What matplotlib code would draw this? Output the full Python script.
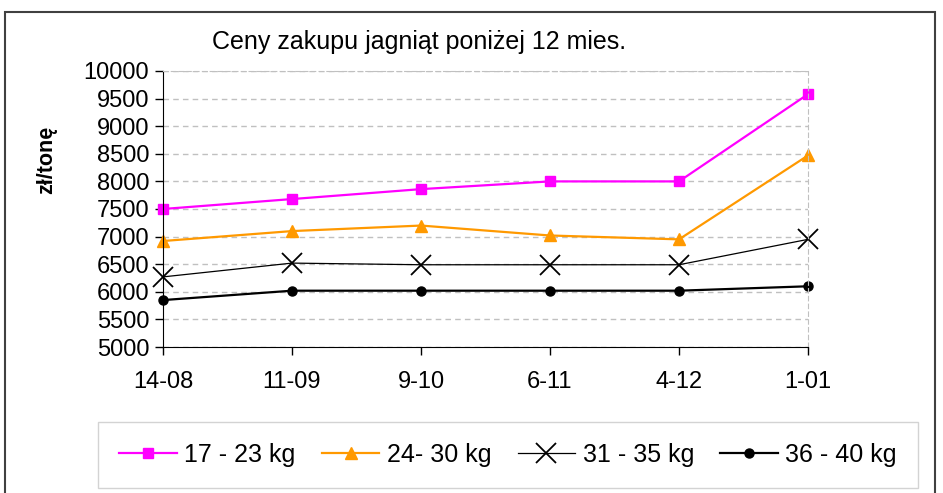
import matplotlib.pyplot as plt
from matplotlib.patches import Rectangle

plt.rcParams['font.family'] = ['Liberation Sans', 'DejaVu Sans']

dates = ['14-08', '11-09', '9-10', '6-11', '4-12', '1-01']
kg_17_23 = [7500, 7680, 7860, 8000, 8000, 9580]
kg_24_30 = [6920, 7100, 7200, 7020, 6950, 8470]
kg_31_35 = [6270, 6520, 6490, 6490, 6490, 6950]
kg_36_40 = [5850, 6020, 6020, 6020, 6020, 6100]
labels = ['17 - 23 kg', '24- 30 kg', '31 - 35 kg', '36 - 40 kg']

fig = plt.figure(figsize=(9.43, 4.93), dpi=100)
# outer chart border
fig.patches.append(Rectangle((5 / 943, -0.05), 930 / 943, 1 - 12 / 493 + 0.05,
                             transform=fig.transFigure, fill=False,
                             edgecolor='#404040', linewidth=1.5))

ax = fig.add_axes([163 / 943, 1 - 347 / 493, 645 / 943, 276 / 493])
x = range(len(dates))

ax.plot(x, kg_17_23, color='#ff00ff', lw=1.6, marker='s', ms=7, label=labels[0])
ax.plot(x, kg_24_30, color='#ff9900', lw=1.6, marker='^', ms=9, label=labels[1])
ax.plot(x, kg_31_35, color='black', lw=0.9, marker='x', ms=15, mew=1.3, label=labels[2])
ax.plot(x, kg_36_40, color='black', lw=1.6, marker='o', ms=6.5, label=labels[3])

ax.set_xlim(0, len(dates) - 1)
ax.set_ylim(5000, 10000)
ax.set_yticks(range(5000, 10001, 500))
ax.set_xticks(list(x))
ax.set_xticklabels(dates)
ax.tick_params(axis='both', labelsize=17, direction='out', length=6, width=1)
ax.tick_params(axis='y', pad=4)
ax.tick_params(axis='x', pad=11)
ax.grid(axis='y', color='#c0c0c0', linestyle=(0, (4, 3)), linewidth=1)
for side in ['top', 'right']:
    ax.spines[side].set_color('#c0c0c0')
    ax.spines[side].set_linestyle((0, (4, 3)))
for side in ['left', 'bottom']:
    ax.spines[side].set_color('black')
for line in ax.lines:
    line.set_clip_on(False)

fig.text(47 / 943, 1 - 160 / 493, 'zł/tonę', rotation=90, ha='center', va='center',
         fontsize=15.5, fontweight='bold')
fig.text(419 / 943, 1 - 42 / 493, 'Ceny zakupu jagniąt poniżej 12 mies.',
         ha='center', va='center', fontsize=18)

leg = fig.legend(loc='center', bbox_to_anchor=(508 / 943, 1 - 455 / 493),
                 ncol=4, fontsize=18, frameon=True, fancybox=False,
                 edgecolor='#c8c8c8', handlelength=2.3, columnspacing=1.05,
                 handletextpad=0.3, borderpad=0.85, borderaxespad=0)
leg.get_frame().set_linewidth(1)

fig.savefig('out.png', dpi=100)
